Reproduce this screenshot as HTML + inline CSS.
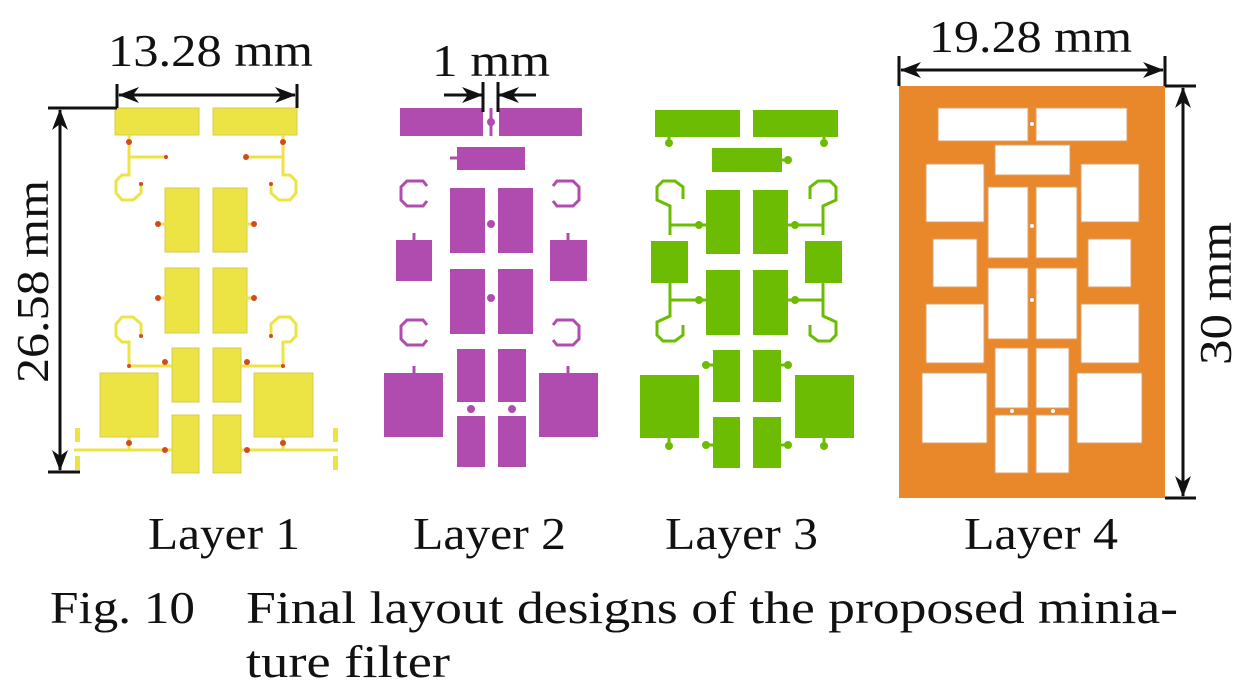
<!DOCTYPE html>
<html><head><meta charset="utf-8"><style>
html,body{margin:0;padding:0;background:#fff;}
svg{display:block;}
text{font-family:"Liberation Serif",serif;fill:#111;}
</style></head><body>
<svg width="1245" height="697" viewBox="0 0 1245 697" xmlns="http://www.w3.org/2000/svg">
<defs>
<marker id="ah" markerWidth="22" markerHeight="16" refX="20" refY="8" orient="auto-start-reverse" markerUnits="userSpaceOnUse" viewBox="0 0 22 16">
<path d="M0,0 L21,8 L0,16 L6,8 Z" fill="#111"/>
</marker>
</defs>

<!-- ===== Layer 1 (yellow) ===== -->
<g fill="#ece444" stroke="#d8c850" stroke-width="1">
<rect x="115" y="108" width="84" height="27"/><rect x="213" y="108" width="84" height="27"/>
<rect x="165" y="188" width="34" height="64"/><rect x="213" y="188" width="34" height="64"/>
<rect x="165" y="268" width="34" height="65"/><rect x="213" y="268" width="34" height="65"/>
<rect x="172" y="348" width="27" height="54"/><rect x="213" y="348" width="28" height="54"/>
<rect x="172" y="415" width="27" height="58"/><rect x="213" y="415" width="28" height="58"/>
<rect x="100" y="373" width="58" height="64"/><rect x="254" y="373" width="59" height="64"/>
</g>
<g fill="none" stroke="#ece444" stroke-width="3">
<path d="M129,135 V175 H122 L116,181 V193 L122,200 H133 L141,193 V184"/>
<path d="M129,157 H166"/>
<path d="M283,135 V175 H290 L296,181 V193 L290,200 H279 L271,193 V184"/>
<path d="M283,157 H246"/>
<path d="M129,366 V342 H122 L116,336 V324 L122,317 H133 L141,324 V336"/>
<path d="M129,366 H172"/>
<path d="M283,366 V342 H290 L296,336 V324 L290,317 H279 L271,324 V336"/>
<path d="M283,366 H241"/>
<path d="M160,224 H166 M252,224 H246 M160,298 H166 M252,298 H246"/>
<path d="M74,450 H172 M241,450 H338 M129,437 V450 M283,437 V450"/>
</g>
<g fill="#d44a20">
<circle cx="129" cy="142" r="3"/><circle cx="283" cy="142" r="3"/>
<circle cx="166" cy="157" r="2"/><circle cx="246" cy="157" r="3"/>
<circle cx="141" cy="184" r="2"/><circle cx="271" cy="184" r="2"/>
<circle cx="158" cy="224" r="3"/><circle cx="254" cy="224" r="3"/>
<circle cx="158" cy="298" r="3"/><circle cx="254" cy="298" r="3"/>
<circle cx="141" cy="336" r="2"/><circle cx="271" cy="336" r="2"/>
<circle cx="129" cy="366" r="2"/><circle cx="283" cy="366" r="2"/>
<circle cx="165" cy="362" r="3"/><circle cx="247" cy="362" r="3"/>
<circle cx="129" cy="443" r="3"/><circle cx="283" cy="443" r="3"/>
<circle cx="165" cy="450" r="3"/><circle cx="247" cy="450" r="3"/>
</g>
<g fill="#ece444"><rect x="75" y="428" width="5" height="14"/><rect x="75" y="456" width="5" height="14"/><rect x="333" y="428" width="5" height="14"/><rect x="333" y="456" width="5" height="14"/></g>

<!-- ===== Layer 2 (purple) ===== -->
<g fill="#b04cb0">
<rect x="400" y="108" width="83" height="28"/><rect x="499" y="108" width="83" height="28"/>
<rect x="457" y="147" width="68" height="23"/>
<rect x="450" y="188" width="35" height="65"/><rect x="498" y="188" width="35" height="65"/>
<rect x="450" y="269" width="35" height="65"/><rect x="498" y="269" width="35" height="65"/>
<rect x="457" y="349" width="28" height="53"/><rect x="498" y="349" width="28" height="53"/>
<rect x="457" y="416" width="28" height="51"/><rect x="498" y="416" width="28" height="51"/>
<rect x="396" y="240" width="36" height="41"/><rect x="550" y="240" width="37" height="41"/>
<rect x="384" y="373" width="59" height="64"/><rect x="539" y="373" width="59" height="64"/>
<circle cx="491" cy="122" r="4"/><circle cx="491" cy="224" r="4"/><circle cx="491" cy="298" r="4"/>
<circle cx="471" cy="409" r="4"/><circle cx="512" cy="409" r="4"/>
</g>
<g fill="none" stroke="#b04cb0" stroke-width="3">
<path d="M427,186 L423,181 H407 L401,187 V200 L407,206 H423 L427,201"/>
<path d="M553,186 L557,181 H573 L579,187 V200 L573,206 H557 L553,201"/>
<path d="M427,325 L423,320 H407 L401,326 V339 L407,345 H423 L427,340"/>
<path d="M553,325 L557,320 H573 L579,326 V339 L573,345 H557 L553,340"/>
<path d="M414,233 V240 M568,233 V240 M414,366 V373 M568,366 V373 M450,158 H457 M491,136 V108"/>
</g>

<!-- ===== Layer 3 (green) ===== -->
<g fill="#6cbc04">
<rect x="655" y="110" width="85" height="27"/><rect x="753" y="110" width="85" height="27"/>
<rect x="712" y="148" width="70" height="24"/>
<rect x="706" y="190" width="34" height="64"/><rect x="753" y="190" width="35" height="64"/>
<rect x="706" y="270" width="34" height="65"/><rect x="753" y="270" width="35" height="65"/>
<rect x="713" y="350" width="27" height="52"/><rect x="753" y="350" width="28" height="52"/>
<rect x="713" y="417" width="27" height="51"/><rect x="753" y="417" width="28" height="51"/>
<rect x="651" y="241" width="37" height="42"/><rect x="805" y="241" width="37" height="42"/>
<rect x="640" y="375" width="59" height="63"/><rect x="795" y="375" width="59" height="63"/>
<circle cx="669" cy="143" r="4"/><circle cx="824" cy="143" r="4"/><circle cx="788" cy="160" r="4"/>
<circle cx="699" cy="225" r="4"/><circle cx="795" cy="225" r="4"/>
<circle cx="699" cy="300" r="4"/><circle cx="795" cy="300" r="4"/>
<circle cx="706" cy="365" r="4"/><circle cx="788" cy="365" r="4"/>
<circle cx="706" cy="445" r="4"/><circle cx="788" cy="445" r="4"/>
<circle cx="669" cy="446" r="4"/><circle cx="824" cy="446" r="4"/>
</g>
<g fill="none" stroke="#6cbc04" stroke-width="3">
<path d="M670,235 V206 L657,200 V187 L663,181 H675 L683,187 V199"/>
<path d="M670,225 H706"/>
<path d="M823,235 V206 L836,200 V187 L830,181 H818 L810,187 V199"/>
<path d="M823,225 H788"/>
<path d="M670,283 V316 L657,322 V335 L663,341 H675 L683,335 V325"/>
<path d="M670,300 H706"/>
<path d="M823,283 V316 L836,322 V335 L830,341 H818 L810,335 V325"/>
<path d="M823,300 H788"/>
<path d="M669,137 V143 M824,137 V143 M782,160 H788 M669,438 V446 M824,438 V446 M706,445 H713 M781,445 H788 M706,365 H713 M781,365 H788"/>
</g>

<!-- ===== Layer 4 (orange) ===== -->
<rect x="899" y="86" width="266" height="412" fill="#e8882a"/>
<g fill="#fff" stroke="#d9a070" stroke-width="1">
<rect x="938" y="108" width="90" height="33"/><rect x="1036" y="108" width="91" height="33"/>
<rect x="995" y="145" width="75" height="30"/>
<rect x="926" y="164" width="58" height="58"/><rect x="1081" y="164" width="58" height="58"/>
<rect x="988" y="187" width="40" height="71"/><rect x="1036" y="187" width="41" height="71"/>
<rect x="933" y="239" width="44" height="48"/><rect x="1088" y="239" width="43" height="48"/>
<rect x="988" y="268" width="40" height="71"/><rect x="1036" y="268" width="41" height="71"/>
<rect x="926" y="304" width="58" height="59"/><rect x="1081" y="304" width="58" height="59"/>
<rect x="995" y="348" width="33" height="60"/><rect x="1036" y="348" width="33" height="60"/>
<rect x="922" y="373" width="65" height="70"/><rect x="1077" y="373" width="65" height="70"/>
<rect x="995" y="415" width="33" height="58"/><rect x="1036" y="415" width="33" height="58"/>
</g>
<g fill="#fff"><circle cx="1032" cy="124" r="2"/><circle cx="1032" cy="226" r="2"/><circle cx="1032" cy="300" r="2"/><circle cx="1012" cy="411" r="2"/><circle cx="1053" cy="411" r="2"/></g>

<!-- ===== Dimension lines ===== -->
<g stroke="#111" stroke-width="3" fill="none">
<line x1="117" y1="84" x2="117" y2="108"/><line x1="297" y1="84" x2="297" y2="108"/>
<line x1="119" y1="95" x2="295" y2="95" marker-start="url(#ah)" marker-end="url(#ah)"/>
<line x1="48" y1="108" x2="117" y2="108"/><line x1="48" y1="472" x2="80" y2="472"/>
<line x1="60" y1="110" x2="60" y2="470" marker-start="url(#ah)" marker-end="url(#ah)"/>
<line x1="483" y1="82" x2="483" y2="112"/><line x1="498" y1="82" x2="498" y2="112"/>
<line x1="444" y1="95" x2="482" y2="95" marker-end="url(#ah)"/>
<line x1="536" y1="95" x2="499" y2="95" marker-end="url(#ah)"/>
<line x1="899" y1="56" x2="899" y2="86"/><line x1="1165" y1="56" x2="1165" y2="86"/>
<line x1="901" y1="70" x2="1163" y2="70" marker-start="url(#ah)" marker-end="url(#ah)"/>
<line x1="1165" y1="86" x2="1196" y2="86"/><line x1="1165" y1="498" x2="1196" y2="498"/>
<line x1="1183" y1="88" x2="1183" y2="496" marker-start="url(#ah)" marker-end="url(#ah)"/>
</g>

<!-- ===== Text ===== -->
<text x="108" y="66" font-size="46" textLength="205" lengthAdjust="spacingAndGlyphs">13.28 mm</text>
<text x="432" y="76" font-size="46" textLength="118" lengthAdjust="spacingAndGlyphs">1 mm</text>
<text x="929" y="52" font-size="46" textLength="203" lengthAdjust="spacingAndGlyphs">19.28 mm</text>
<text transform="translate(48,383) rotate(-90)" font-size="46" textLength="203" lengthAdjust="spacingAndGlyphs">26.58 mm</text>
<text transform="translate(1231,365) rotate(-90)" font-size="46" textLength="143" lengthAdjust="spacingAndGlyphs">30 mm</text>
<text x="148" y="549" font-size="46" textLength="152" lengthAdjust="spacingAndGlyphs">Layer 1</text>
<text x="413" y="549" font-size="46" textLength="153" lengthAdjust="spacingAndGlyphs">Layer 2</text>
<text x="665" y="549" font-size="46" textLength="153" lengthAdjust="spacingAndGlyphs">Layer 3</text>
<text x="964" y="549" font-size="46" textLength="154" lengthAdjust="spacingAndGlyphs">Layer 4</text>
<text x="50" y="623" font-size="46" textLength="145" lengthAdjust="spacingAndGlyphs">Fig. 10</text>
<text x="246" y="623" font-size="46" textLength="932" lengthAdjust="spacingAndGlyphs">Final layout designs of the proposed minia-</text>
<text x="246" y="677" font-size="46" textLength="204" lengthAdjust="spacingAndGlyphs">ture filter</text>
</svg>
</body></html>
